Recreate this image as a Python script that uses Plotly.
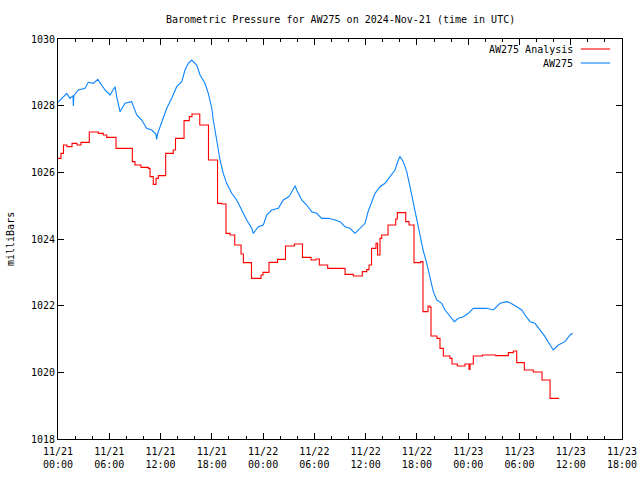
import pandas as pd
import plotly.graph_objects as go

# ---- data (hours since 2024-11-21 00:00 UTC, pressure in mb) ----
blue_hours = [0.0, 0.43, 1.02, 1.40, 1.75, 1.80, 1.85, 2.38, 3.16, 3.55, 4.13, 4.65,
              5.11, 5.50, 6.09, 6.67, 6.87, 7.26, 7.84, 8.62, 9.21, 9.80, 10.38, 10.97,
              11.45, 11.55, 11.65, 11.94, 12.32, 12.72, 13.31, 13.89, 14.48, 14.86, 15.25,
              15.65, 16.23, 16.62, 17.20, 17.59, 17.99, 18.17, 18.57, 18.96, 19.34, 19.74,
              20.33, 20.91, 21.50, 22.08, 22.67, 22.85, 23.44, 24.03, 24.42, 25.01, 25.78,
              26.37, 26.95, 27.15, 27.75, 27.93, 28.52, 29.10, 29.69, 30.27, 30.86, 31.63,
              32.42, 33.00, 33.59, 34.17, 34.76, 35.34, 35.93, 36.31, 36.71, 37.10, 37.68,
              38.27, 38.85, 39.44, 39.82, 40.02, 40.41, 40.81, 41.19, 41.58, 41.98, 42.36,
              42.75, 43.15, 43.53, 43.92, 44.32, 44.90, 45.29, 45.87, 46.38, 46.85, 47.43,
              48.02, 48.60, 49.38, 50.17, 50.94, 51.73, 52.51, 52.90, 53.68, 54.27, 54.65,
              55.24, 55.82, 56.41, 56.99, 57.58, 57.96, 58.55, 59.33, 59.92, 60.23]
blue_mb = [1028.10, 1028.22, 1028.37, 1028.22, 1028.30, 1027.99, 1028.30, 1028.47, 1028.52,
           1028.70, 1028.67, 1028.79, 1028.62, 1028.47, 1028.32, 1028.57, 1028.27, 1027.82,
           1028.07, 1028.12, 1027.72, 1027.57, 1027.32, 1027.27, 1027.15, 1026.99, 1027.15,
           1027.37, 1027.67, 1027.92, 1028.22, 1028.57, 1028.72, 1029.07, 1029.27, 1029.37,
           1029.22, 1028.92, 1028.67, 1028.37, 1027.93, 1027.57, 1026.97, 1026.37, 1025.97,
           1025.67, 1025.37, 1025.17, 1024.87, 1024.57, 1024.32, 1024.17, 1024.37, 1024.42,
           1024.72, 1024.87, 1024.92, 1025.17, 1025.26, 1025.32, 1025.60, 1025.47, 1025.17,
           1025.02, 1024.82, 1024.77, 1024.62, 1024.62, 1024.57, 1024.52, 1024.37, 1024.32,
           1024.17, 1024.32, 1024.47, 1024.84, 1025.12, 1025.37, 1025.57, 1025.67, 1025.87,
           1026.07, 1026.37, 1026.47, 1026.32, 1026.02, 1025.57, 1025.07, 1024.57, 1024.07,
           1023.64, 1023.27, 1022.87, 1022.42, 1022.17, 1022.07, 1021.87, 1021.67, 1021.52,
           1021.62, 1021.67, 1021.77, 1021.92, 1021.92, 1021.92, 1021.87, 1022.07, 1022.12,
           1022.09, 1021.97, 1021.87, 1021.72, 1021.52, 1021.47, 1021.27, 1021.07, 1020.82,
           1020.67, 1020.82, 1020.92, 1021.12, 1021.17]

red_hours = [0.00, 0.35, 0.64, 1.05, 1.64, 2.22, 2.69, 3.66, 4.72, 5.30, 5.70, 6.79, 8.70,
             9.01, 9.71, 10.57, 10.77, 11.15, 11.47, 11.74, 12.60, 13.49, 13.75, 14.75,
             15.37, 15.68, 16.59, 17.61, 18.67, 19.16, 19.66, 20.13, 20.68, 21.42, 21.69,
             22.64, 23.76, 23.99, 24.69, 25.69, 26.62, 27.66, 28.61, 29.61, 30.19, 30.58,
             31.56, 33.59, 34.56, 35.61, 36.13, 36.40, 36.69, 37.21, 37.40, 37.68, 37.88,
             38.62, 39.52, 39.71, 40.69, 41.08, 41.66, 42.44, 42.71, 43.30, 43.53, 43.65,
             44.35, 44.70, 45.09, 45.87, 46.11, 46.73, 47.63, 48.10, 48.21, 48.60, 49.67,
             51.23, 52.70, 53.29, 53.68, 54.57, 55.62, 56.64, 57.58, 58.63]
red_mb = [1026.42, 1026.57, 1026.82, 1026.77, 1026.87, 1026.82, 1026.90, 1027.21, 1027.17,
          1027.12, 1027.05, 1026.72, 1026.32, 1026.22, 1026.15, 1026.12, 1025.87, 1025.64,
          1025.82, 1025.90, 1026.57, 1026.67, 1027.02, 1027.55, 1027.67, 1027.75, 1027.42,
          1026.37, 1025.07, 1025.05, 1024.17, 1024.12, 1023.82, 1023.55, 1023.29, 1022.82,
          1022.92, 1023.00, 1023.30, 1023.39, 1023.79, 1023.85, 1023.45, 1023.37, 1023.40,
          1023.22, 1023.12, 1022.94, 1022.89, 1023.02, 1023.08, 1023.22, 1023.72, 1023.87,
          1023.52, 1024.02, 1024.12, 1024.42, 1024.60, 1024.79, 1024.52, 1024.42, 1023.29,
          1023.32, 1021.82, 1021.99, 1021.95, 1021.09, 1021.02, 1020.72, 1020.49, 1020.42,
          1020.25, 1020.19, 1020.25, 1020.09, 1020.25, 1020.49, 1020.52, 1020.50, 1020.59,
          1020.64, 1020.29, 1020.07, 1020.01, 1019.77, 1019.22, 1019.22]

series_names = ["AW275 Analysis", "AW275"]
title_text = "Barometric Pressure for AW275 on 2024-Nov-21 (time in UTC)"
y_label = "milliBars"

base = pd.Timestamp("2024-11-21 00:00")
blue_t = base + pd.to_timedelta(blue_hours, unit="h")
red_t = base + pd.to_timedelta(red_hours, unit="h")

RED = "#ff0000"
BLUE = "#0a84ff"
FONT = dict(family="DejaVu Sans Mono, Liberation Mono, monospace", size=10, color="black")

fig = go.Figure()
fig.add_trace(go.Scatter(x=red_t, y=red_mb, mode="lines", name=series_names[0],
                         line=dict(color=RED, width=1.1, shape="hv")))
fig.add_trace(go.Scatter(x=blue_t, y=blue_mb, mode="lines", name=series_names[1],
                         line=dict(color=BLUE, width=1.1)))

H = 3600 * 1000
axis_common = dict(showline=True, linecolor="black", linewidth=1, mirror="ticks",
                   ticks="inside", ticklen=6, tickcolor="black", tickwidth=1,
                   showgrid=False, zeroline=False, tickfont=FONT, automargin=False)
fig.update_xaxes(type="date", range=["2024-11-21 00:00", "2024-11-23 18:00"],
                 tick0="2024-11-21 00:00", dtick=6 * H, tickformat="%m/%d<br>%H:%M",
                 ticklabelstandoff=3,
                 minor=dict(dtick=2 * H, ticks="inside", ticklen=3, tickcolor="black",
                            showgrid=False),
                 **axis_common)
fig.update_yaxes(range=[1018, 1030], dtick=2, tick0=1018, **axis_common)

# legend drawn gnuplot-style: text then sample line
ann = [
    dict(text=title_text, xref="paper", yref="paper", x=0.5, y=1, yshift=20,
         xanchor="center", yanchor="middle", showarrow=False, font=FONT),
    dict(text=y_label, xref="paper", yref="paper", x=0, y=0.5, xshift=-48,
         xanchor="center", yanchor="middle", textangle=-90, showarrow=False, font=FONT),
]
shapes = []
leg_y = [0.975, 0.94]
for name, col, yy in zip(series_names, [RED, BLUE], leg_y):
    ann.append(dict(text=name, xref="paper", yref="paper", x=0.9167, y=yy,
                    xanchor="right", yanchor="middle", showarrow=False, font=FONT))
    shapes.append(dict(type="line", xref="paper", yref="paper", x0=0.927, x1=0.979,
                       y0=yy, y1=yy, line=dict(color=col, width=1.1)))

fig.update_layout(width=640, height=480, margin=dict(l=58, r=18, t=39, b=41),
                  paper_bgcolor="white", plot_bgcolor="white", showlegend=False,
                  annotations=ann, shapes=shapes, font=FONT)

fig.write_html("out.html")
